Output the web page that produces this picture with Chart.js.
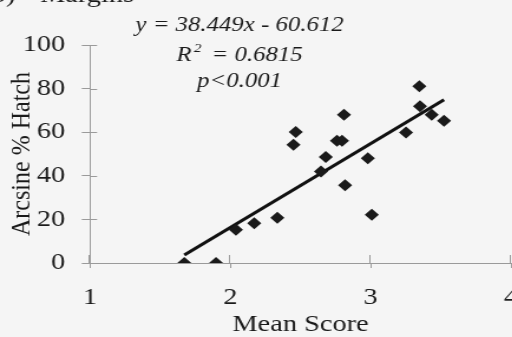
<!DOCTYPE html>
<html>
<head>
<meta charset="utf-8">
<script src="https://cdn.jsdelivr.net/npm/chart.js@4.4.1/dist/chart.umd.min.js"></script>
<style>
  html, body { margin: 0; padding: 0; width: 512px; height: 337px; overflow: hidden; background: #f5f5f5; }
  /* the figure is laid out narrower and widened horizontally, as in the printed plate */
  #wrap { position: absolute; left: 0; top: 0; width: 439px; height: 337px; transform: scaleX(1.18); transform-origin: 0 0; }
  .preload { position: absolute; left: -9999px; font-family: "Liberation Serif"; }
  .preload i { font-style: italic; }
</style>
</head>
<body>
<span class="preload">Aa <i>Aa</i></span>
<div id="wrap"><canvas id="chart"></canvas></div>
<script>
// Margins: arcsine-transformed % hatch against mean margin score
const meanScore    = [1.672, 1.898, 2.04, 2.17, 2.335, 2.45, 2.466, 2.646, 2.68, 2.76, 2.796, 2.81, 2.818, 2.98, 3.008, 3.252, 3.347, 3.352, 3.435, 3.523];
const arcsineHatch = [0,     0,     15.2, 18.2, 20.8,  54.3, 60.1,  42.0,  48.6, 56.1, 56.1,  68.0, 35.7,  48.1, 22.1,  59.9,  81.1,  71.9,  68.0,  65.3];

const xTicks = [1, 2, 3, 4];
const yTicks = [0, 20, 40, 60, 80, 100];

// least-squares fit reported on the plot
const fitSlope = 38.449;
const fitIntercept = -60.612;
const fitR2 = 0.6815;
const fitP = 'p<0.001';
const fitRange = [1.672, 3.523];

const panelLabel = 'b)';
const panelTitle = 'Margins';

const SERIF = '"Liberation Serif", "Times New Roman", Times, serif';
const INK = '#1a1a1a';
const AXIS = '#9a9a9a';

const points = meanScore.map((x, i) => ({ x: x, y: arcsineHatch[i] }));
const fitLine = fitRange.map(x => ({ x: x, y: fitSlope * x + fitIntercept }));

// tick marks that cross the axes (inner half; Chart.js draws the outer half)
const crossTicks = {
  id: 'crossTicks',
  afterDraw(chart) {
    const { ctx, chartArea, scales } = chart;
    ctx.save();
    ctx.strokeStyle = AXIS;
    ctx.lineWidth = 1;
    ctx.beginPath();
    yTicks.forEach(v => {
      const y = Math.round(scales.y.getPixelForValue(v)) + 0.5;
      ctx.moveTo(chartArea.left, y);
      ctx.lineTo(chartArea.left + 6, y);
    });
    xTicks.forEach(v => {
      const x = Math.round(scales.x.getPixelForValue(v)) - 0.5;
      ctx.moveTo(x, chartArea.bottom);
      ctx.lineTo(x, chartArea.bottom - 8);
    });
    ctx.stroke();
    ctx.restore();
  }
};

// panel heading and regression statistics
const captions = {
  id: 'captions',
  afterDraw(chart) {
    const { ctx } = chart;
    ctx.save();
    ctx.fillStyle = INK;
    ctx.textBaseline = 'alphabetic';

    ctx.font = '24px ' + SERIF;
    ctx.textAlign = 'right';
    ctx.fillText(panelLabel, 13, 2);
    ctx.textAlign = 'left';
    ctx.fillText(panelTitle, 34, 2);

    const cx = 203;
    const big = 'italic 21px ' + SERIF;
    const small = 'italic 13px ' + SERIF;

    ctx.font = big;
    ctx.textAlign = 'center';
    ctx.fillText('y = ' + fitSlope.toFixed(3) + 'x - ' + Math.abs(fitIntercept).toFixed(3), cx, 31);

    // R² with a raised 2
    const rPart = 'R';
    const tail = ' = ' + fitR2.toFixed(4);
    ctx.font = big;
    const wR = ctx.measureText(rPart).width;
    const wTail = ctx.measureText(' ' + tail).width;
    ctx.font = small;
    const w2 = ctx.measureText('2').width;
    let x0 = cx - (wR + w2 + wTail) / 2;
    ctx.textAlign = 'left';
    ctx.font = big;
    ctx.fillText(rPart, x0, 61);
    ctx.font = small;
    ctx.fillText('2', x0 + wR + 2, 52);
    ctx.font = big;
    ctx.fillText(' ' + tail, x0 + wR + w2, 61);

    ctx.textAlign = 'center';
    ctx.fillText(fitP, cx, 87);
    ctx.restore();
  }
};

function build() {
  new Chart(document.getElementById('chart'), {
    type: 'scatter',
    data: {
      datasets: [
        {
          label: 'Arcsine % Hatch',
          data: points,
          pointStyle: 'rectRot',
          pointRadius: 6,
          pointBackgroundColor: INK,
          pointBorderWidth: 0,
          showLine: false
        },
        {
          label: 'Linear fit',
          data: fitLine,
          showLine: true,
          borderColor: '#111',
          borderWidth: 3,
          pointRadius: 0,
          fill: false
        }
      ]
    },
    options: {
      responsive: true,
      maintainAspectRatio: false,
      animation: false,
      events: [],
      layout: { padding: { top: 45, left: 0, right: 0, bottom: 0 } },
      plugins: {
        legend: { display: false },
        tooltip: { enabled: false },
        title: { display: false }
      },
      scales: {
        x: {
          type: 'linear',
          min: 1,
          max: 4,
          afterBuildTicks: s => { s.ticks = xTicks.map(v => ({ value: v })); },
          afterFit: s => { s.height = 74; s.paddingRight = 0; },
          ticks: {
            color: INK,
            padding: 15,
            font: { family: SERIF, size: 24 }
          },
          grid: { drawOnChartArea: false, drawTicks: true, tickLength: 5, color: AXIS },
          border: { display: true, color: AXIS, width: 1 },
          title: {
            display: true,
            text: 'Mean Score',
            color: INK,
            font: { family: SERIF, size: 24, lineHeight: 1 },
            padding: { top: 0, bottom: 0 }
          }
        },
        y: {
          type: 'linear',
          min: 0,
          max: 100,
          afterBuildTicks: s => { s.ticks = yTicks.map(v => ({ value: v })); },
          afterFit: s => { s.width = 76.3; },
          ticks: {
            color: INK,
            padding: 14,
            font: { family: SERIF, size: 24 }
          },
          grid: { drawOnChartArea: false, drawTicks: true, tickLength: 7, color: AXIS },
          border: { display: true, color: AXIS, width: 1 },
          title: {
            display: true,
            text: 'Arcsine % Hatch',
            color: INK,
            font: { family: SERIF, size: 24, lineHeight: 1 },
            padding: { top: 7, bottom: 0 }
          }
        }
      }
    },
    plugins: [crossTicks, captions]
  });
}

Promise.all([
  document.fonts.load('24px "Liberation Serif"'),
  document.fonts.load('italic 21px "Liberation Serif"')
]).then(build, build);
</script>
</body>
</html>
